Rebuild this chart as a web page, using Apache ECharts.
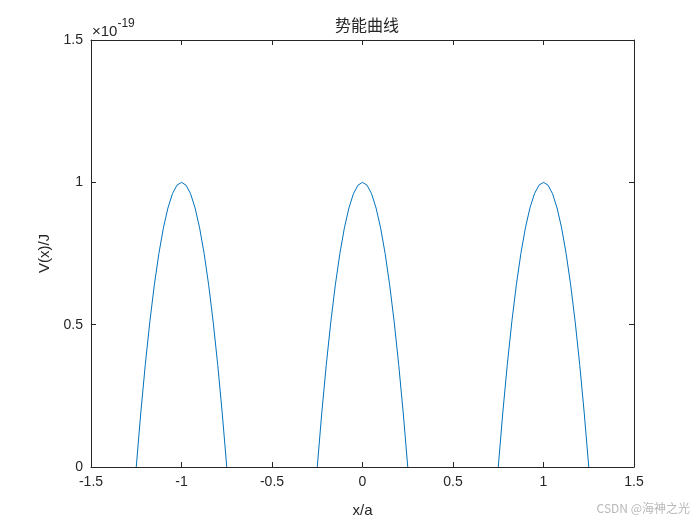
<!DOCTYPE html>
<html>
<head>
<meta charset="utf-8">
<script src="https://cdn.jsdelivr.net/npm/echarts@6/dist/echarts.min.js"></script>
<style>
  html, body { margin: 0; padding: 0; background: #fff; }
  #main { width: 700px; height: 525px; }
</style>
</head>
<body>
<div id="main"></div>
<script>
// x/a positions and V(x) in units of 1e-19 J
// (null = gap between the barriers, where only the axis line shows)
var xPos = [
  -1.25, -1.225, -1.2, -1.175, -1.15, -1.125, -1.1, -1.075, -1.05, -1.025,
  -1, -0.975, -0.95, -0.925, -0.9, -0.875, -0.85, -0.825, -0.8, -0.775, -0.75,
  -0.5,
  -0.25, -0.225, -0.2, -0.175, -0.15, -0.125, -0.1, -0.075, -0.05, -0.025,
  0, 0.025, 0.05, 0.075, 0.1, 0.125, 0.15, 0.175, 0.2, 0.225, 0.25,
  0.5,
  0.75, 0.775, 0.8, 0.825, 0.85, 0.875, 0.9, 0.925, 0.95, 0.975,
  1, 1.025, 1.05, 1.075, 1.1, 1.125, 1.15, 1.175, 1.2, 1.225, 1.25
];
var vVal = [
  0, 0.19, 0.36, 0.51, 0.64, 0.75, 0.84, 0.91, 0.96, 0.99,
  1, 0.99, 0.96, 0.91, 0.84, 0.75, 0.64, 0.51, 0.36, 0.19, 0,
  null,
  0, 0.19, 0.36, 0.51, 0.64, 0.75, 0.84, 0.91, 0.96, 0.99,
  1, 0.99, 0.96, 0.91, 0.84, 0.75, 0.64, 0.51, 0.36, 0.19, 0,
  null,
  0, 0.19, 0.36, 0.51, 0.64, 0.75, 0.84, 0.91, 0.96, 0.99,
  1, 0.99, 0.96, 0.91, 0.84, 0.75, 0.64, 0.51, 0.36, 0.19, 0
];
var xTicks = { min: -1.5, max: 1.5, step: 0.5 };
var yTicks = { min: 0, max: 1.5, step: 0.5 };

var ink = '#262626';
var font = '"Liberation Sans", Arial, sans-serif';
var cjk = '"Noto Sans CJK SC", sans-serif';

function fmt(v) { return String(Math.round(v * 100) / 100); }

var points = xPos.map(function (x, i) { return [x, vVal[i] === null ? '-' : vVal[i]]; });

function axisBase(pos, t, showLabel) {
  return {
    type: 'value',
    position: pos,
    min: t.min,
    max: t.max,
    interval: t.step,
    splitLine: { show: false },
    axisLine: { show: true, onZero: false, lineStyle: { color: ink, width: 1 } },
    axisTick: { show: true, inside: true, length: 5, lineStyle: { color: ink } },
    axisLabel: {
      show: showLabel,
      color: ink,
      fontSize: 14,
      fontFamily: font,
      margin: 8,
      formatter: fmt
    }
  };
}

echarts.init(document.getElementById('main')).setOption({
  backgroundColor: '#fff',
  animation: false,
  title: {
    text: '势能曲线',
    left: 362,
    top: 12,
    textAlign: 'center',
    textStyle: { fontSize: 16, fontWeight: 'normal', color: ink, fontFamily: cjk }
  },
  grid: { left: 91, right: 66, top: 40, bottom: 58, containLabel: false },
  xAxis: [
    Object.assign(axisBase('bottom', xTicks, true), {
      name: 'x/a', nameLocation: 'middle', nameGap: 36,
      nameTextStyle: { color: ink, fontSize: 15, fontFamily: font }
    }),
    axisBase('top', xTicks, false)
  ],
  yAxis: [
    Object.assign(axisBase('left', yTicks, true), {
      name: 'V(x)/J', nameLocation: 'middle', nameGap: 36,
      nameTextStyle: { color: ink, fontSize: 15, fontFamily: font }
    }),
    axisBase('right', yTicks, false)
  ],
  graphic: [
    {
      type: 'text',
      left: 92,
      top: 18,
      style: {
        text: '{a|×10}{b|-19}',
        rich: {
          a: { fontSize: 15, fontFamily: font, fill: ink, verticalAlign: 'bottom' },
          b: { fontSize: 12, fontFamily: font, fill: ink, verticalAlign: 'top', padding: [0, 0, 9, 0] }
        }
      }
    },
    {
      type: 'text',
      right: 10,
      top: 502,
      style: { text: 'CSDN @海神之光', fontSize: 12, fill: '#b8b8b8', fontFamily: cjk }
    }
  ],
  series: [{
    type: 'line',
    data: points,
    showSymbol: false,
    connectNulls: false,
    smooth: false,
    lineStyle: { color: '#0072BD', width: 1 },
    itemStyle: { color: '#0072BD' }
  }]
});
</script>
</body>
</html>
